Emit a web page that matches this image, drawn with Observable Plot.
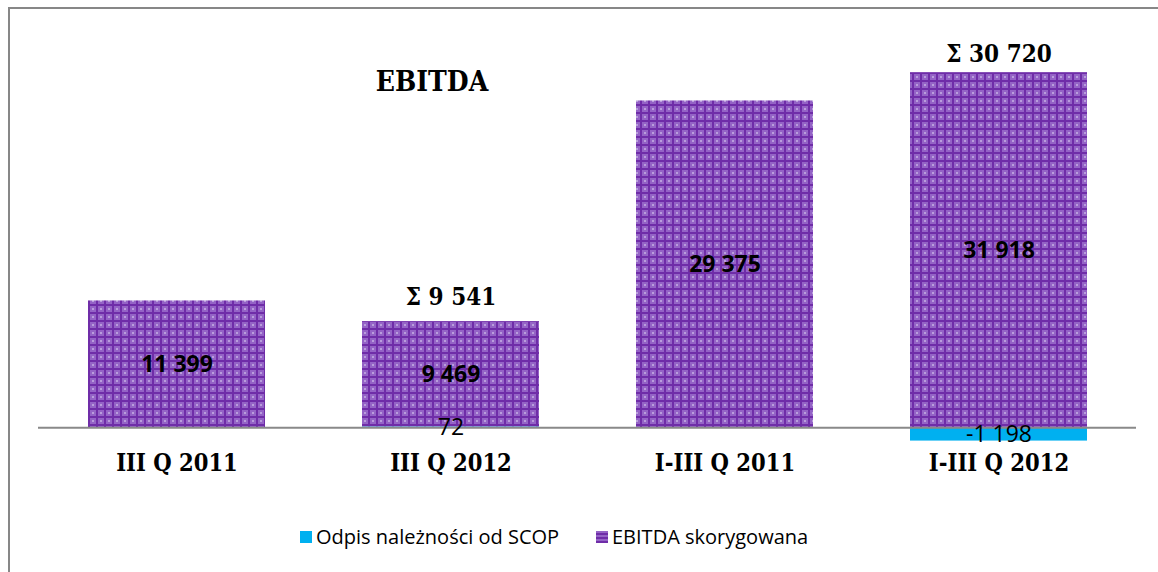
<!DOCTYPE html>
<html>
<head>
<meta charset="utf-8">
<script src="https://cdn.jsdelivr.net/npm/d3@7"></script>
<script src="https://cdn.jsdelivr.net/npm/@observablehq/plot@0.6"></script>
<style>
  html, body { margin: 0; padding: 0; background: #fff; overflow: hidden; }
  #wrap { position: relative; width: 1158px; height: 572px; }
  #frame { position: absolute; left: 8px; top: 7px; width: 1300px; height: 800px;
           border-left: 2px solid #878787; border-top: 2px solid #878787; z-index: 2; pointer-events: none; }
  #legend { position: relative; height: 67px; font-family: "Open Sans", sans-serif; font-size: 20px; color: #000; }
  .item { position: absolute; top: 18px; display: flex; align-items: center; }
  .sw { width: 12px; height: 12px; margin-right: 4px; }
</style>
</head>
<body>
<div id="wrap">
  <div id="frame"></div>
  <div id="chart"></div>
  <div id="legend"></div>
</div>
<script>
const categories = ["III Q 2011", "III Q 2012", "I-III Q 2011", "I-III Q 2012"];
const seriesNames = ["Odpis należności od SCOP", "EBITDA skorygowana"];
const odpisValues = [null, 72, null, -1198];
const ebitdaValues = [11399, 9469, 29375, 31918];
const sigmaCategories = ["III Q 2012", "I-III Q 2012"];
const sigmaValues = [9541, 30720];
const titleText = "EBITDA";

const seriesColors = ["#00B0F0", "url(#ebitdaPattern)"];

const fmt = d3.formatLocale({decimal: ",", thousands: " ", grouping: [3], currency: ["", ""], minus: "-"}).format(",d");

const table = [];
categories.forEach((c, i) => {
  if (odpisValues[i] != null) table.push({category: c, series: seriesNames[0], value: odpisValues[i]});
  table.push({category: c, series: seriesNames[1], value: ebitdaValues[i]});
});

const sigmaTable = sigmaCategories.map((c, i) => {
  const k = categories.indexOf(c);
  return {category: c, total: sigmaValues[i], top: ebitdaValues[k] + Math.max(0, odpisValues[k] || 0)};
});

const serif = "DejaVu Serif Condensed, DejaVu Serif, serif";
const sans = "Open Sans, sans-serif";

const chart = Plot.plot({
  width: 1158,
  height: 505,
  marginLeft: 38,
  marginRight: 22,
  marginTop: 49,
  marginBottom: 11,
  x: {domain: categories, paddingInner: 0.355, paddingOuter: 0.1775, axis: null},
  y: {domain: [-6000, 34000], axis: null},
  color: {type: "ordinal", domain: seriesNames, range: seriesColors},
  marks: [
    Plot.barY(table, {x: "category", y: "value", fill: "series"}),
    Plot.ruleY([0], {stroke: "#898989", strokeWidth: 2}),
    Plot.text(table, Plot.stackY({x: "category", y: "value", z: "series",
      text: d => d.series === seriesNames[1] ? fmt(d.value) : "",
      fontFamily: sans, fontWeight: "bold", fontSize: 23, fill: "#000"})),
    Plot.text(table, Plot.stackY({x: "category", y: "value", z: "series",
      text: d => d.series === seriesNames[0] ? fmt(d.value) : "",
      fontFamily: sans, fontSize: 23, fill: "#000"})),
    Plot.text(sigmaTable, {filter: (d, i) => i === 0, x: "category", y: "top", text: d => "Σ " + fmt(d.total),
      lineAnchor: "bottom", dy: -17, fontFamily: serif, fontWeight: "bold", fontSize: 24, fill: "#000"}),
    Plot.text(sigmaTable, {filter: (d, i) => i === 1, x: "category", y: "top", text: d => "Σ " + fmt(d.total),
      lineAnchor: "bottom", dy: -11, fontFamily: serif, fontWeight: "bold", fontSize: 24, fill: "#000"}),
    Plot.text(categories, {x: d => d, y: 0, text: d => d, lineAnchor: "bottom", dy: 43,
      fontFamily: serif, fontWeight: "bold", fontSize: 23.5, fill: "#000"}),
    Plot.text([titleText], {frameAnchor: "top-left", textAnchor: "middle", dx: 393.5, dy: 41, lineAnchor: "bottom",
      fontFamily: serif, fontWeight: "bold", fontSize: 28, fill: "#000"})
  ]
});

// pattern fill for EBITDA skorygowana
const defs = d3.select(chart).insert("defs", ":first-child");
const pat = defs.append("pattern").attr("id", "ebitdaPattern")
  .attr("patternUnits", "userSpaceOnUse").attr("width", 8).attr("height", 8);
pat.append("rect").attr("width", 8).attr("height", 8).attr("fill", "#9463c6");
pat.append("rect").attr("width", 8).attr("height", 2).attr("fill", "#6f2da8");
pat.append("rect").attr("width", 2).attr("height", 8).attr("fill", "#6f2da8");
pat.append("rect").attr("x", 4).attr("y", 4).attr("width", 2).attr("height", 2).attr("fill", "#b99ddc");

document.getElementById("chart").appendChild(chart);

// legend
const legend = document.getElementById("legend");
const lefts = [300, 596];
seriesNames.forEach((s, i) => {
  const it = document.createElement("div");
  it.className = "item";
  it.style.left = lefts[i] + "px";
  const sw = document.createElement("div");
  sw.className = "sw";
  if (i === 0) sw.style.background = seriesColors[0];
  else sw.style.background = "repeating-linear-gradient(0deg,#6f2da8 0 2px,#9463c6 2px 4px),#9463c6";
  const tx = document.createElement("span");
  tx.textContent = s;
  it.appendChild(sw); it.appendChild(tx);
  legend.appendChild(it);
});
</script>
</body>
</html>
